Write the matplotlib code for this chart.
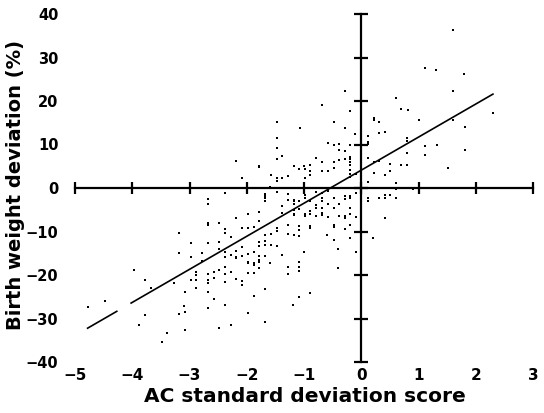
import matplotlib
matplotlib.use("Agg")
import matplotlib.pyplot as plt
import numpy as np

# ---- data ----
pts = [
    (-1.47,15.25),(-1.07,13.9),(-0.29,22.4),(0.61,20.8),(-0.69,19.0),(0.70,18.2),(0.81,17.9),
    (-0.19,17.7),(0.22,16.2),(0.22,15.6),(0.31,15.25),(-0.48,15.2),(1.01,15.7),(-0.29,13.9),
    (1.61,36.4),(1.11,27.7),(1.31,27.1),(1.80,26.3),(1.61,22.4),(1.61,15.55),(2.30,17.2),(1.81,14.1),
    (1.12,9.56),(1.32,9.8),(1.11,7.7),(1.81,8.7),(1.51,4.6),
    (-3.19,-14.9),(-2.98,-15.8),(-3.97,-18.9),(-3.77,-21.1),(-2.98,-21.1),(-3.67,-23.0),(-3.27,-21.8),
    (-4.47,-25.9),(-4.77,-27.4),(-3.08,-24.0),(-3.09,-27.1),(-3.78,-29.1),(-3.19,-29.0),(-3.08,-28.6),
    (-3.88,-31.5),(-3.08,-32.7),(-3.39,-33.4),(-3.48,-35.4),
    (-3.19,-10.25),(-2.98,-12.6),
    (-1.47,11.4),(-1.48,9.3),(-2.18,6.3),(-1.38,7.4),(-1.48,6.7),(-1.78,5.1),(-1.78,4.8),(-1.18,5.1),
    (-1.08,4.4),(-1.0,5.1),(-1.58,3.1),(-2.08,2.4),(-1.48,2.4),(-1.48,1.65),(-1.38,2.2),(-1.28,2.65),
    (-0.99,2.4),(-1.80,0.0),(-1.59,0.2),(-1.28,0.1),
    (-2.38,-1.2),(-1.48,-0.9),(-1.68,-1.3),(-1.68,-1.8),(-1.68,-2.4),(-1.68,-2.95),(-1.28,-1.4),
    (-1.28,-2.7),(-1.18,-2.65),(-1.18,-3.1),(-1.18,-3.6),(-1.08,-2.95),(-2.68,-2.5),(-2.68,-3.6),
    (-1.38,-4.1),(-1.18,-5.1),(-1.18,-5.9),(-1.18,-6.3),(-1.08,-4.9),(-1.78,-5.6),(-1.38,-5.7),
    (-2.18,-6.8),(-1.98,-6.0),(-1.78,-7.6),(-2.68,-8.1),(-2.68,-8.6),(-2.48,-7.95),(-1.28,-8.5),
    (-1.08,-8.7),(-1.08,-9.6),(-2.38,-9.4),(-2.38,-10.3),(-2.08,-9.3),(-1.98,-9.3),(-1.88,-8.9),
    (-1.48,-9.3),(-1.48,-9.8),(-2.28,-11.2),(-1.58,-10.6),(-1.68,-10.8),(-1.28,-10.5),(-1.18,-10.9),
    (-1.08,-11.0),(-2.68,-12.7),(-2.48,-12.3),(-1.78,-12.4),(-1.78,-13.3),(-1.68,-12.2),(-1.68,-13.1),
    (-1.58,-13.1),(-1.48,-13.3),(-2.08,-13.5),
    (-2.78,-14.9),(-2.78,-16.7),(-2.48,-14.0),(-2.38,-14.6),(-2.38,-15.8),(-2.28,-15.3),(-2.18,-14.4),
    (-2.18,-15.8),(-2.18,-16.1),(-2.08,-15.7),(-1.98,-15.2),(-1.88,-14.6),(-1.78,-15.6),(-1.68,-15.6),
    (-1.98,-16.9),(-1.98,-17.3),(-1.88,-17.2),(-1.88,-17.7),(-1.78,-16.6),(-1.78,-17.1),(-1.78,-18.5),
    (-1.59,-17.2),(-1.38,-15.3),(-1.08,-16.9),(-1.08,-18.2),(-1.08,-19.1),(-1.28,-18.2),(-1.28,-19.7),
    (-2.88,-19.2),(-2.88,-20.0),(-2.88,-21.2),(-2.68,-19.7),(-2.58,-19.2),(-2.58,-20.6),(-2.48,-18.9),
    (-2.38,-18.2),(-2.38,-19.7),(-2.28,-19.2),(-2.38,-21.6),(-2.68,-21.2),(-2.68,-21.9),(-2.18,-20.9),
    (-2.08,-21.3),(-2.08,-22.3),(-1.98,-19.5),(-1.88,-19.5),(-2.88,-23.1),(-2.68,-23.9),(-2.58,-25.5),
    (-1.68,-23.2),(-1.88,-24.8),(-2.38,-26.9),(-2.68,-27.7),(-1.98,-28.8),(-1.19,-26.8),(-1.08,-25.1),
    (-1.68,-30.8),(-2.28,-31.5),(-2.48,-32.1),(-1.0,-14.8),
    (-0.40,-14.0),(-0.10,-14.6),(-0.40,-18.5),(-0.89,-24.1),
    (-0.105,12.4),(0.12,12.0),(0.31,12.6),(0.41,12.8),(0.80,11.6),(0.80,10.9),(0.12,10.6),(0.12,10.1),
    (-0.58,10.4),(-0.48,9.95),(-0.38,10.1),(-0.19,9.95),(-0.38,8.7),(-0.29,8.6),(-0.19,7.2),(-0.19,6.6),
    (-0.19,5.9),(-0.19,5.3),(-0.29,6.6),(-0.38,6.4),(-0.79,6.9),(-0.68,5.95),(-0.48,5.95),(-0.99,4.3),
    (-0.89,5.2),(-0.89,3.8),(-0.89,3.0),(-0.68,3.8),(-0.58,3.95),(-0.48,4.6),(-0.19,4.1),(-0.19,3.3),
    (-0.19,2.6),(-0.10,3.2),(0.12,6.9),(0.22,5.95),(0.31,6.3),(0.51,5.5),(0.80,8.1),(0.70,5.2),
    (0.80,5.2),(0.22,3.5),(0.41,3.0),(0.51,3.8),(0.60,1.2),(0.12,1.3),
    (-0.79,0.1),(-0.68,0.0),(-0.48,0.1),(-0.98,0.0),(0.61,-0.3),(0.91,-0.3),
    (0.12,-2.2),(0.12,-3.1),(0.31,-2.2),(0.41,-1.7),(0.41,-2.2),(0.51,-1.7),(0.60,-2.3),(0.41,-6.8),
    (0.20,-11.4),
    (-0.99,-1.7),(-0.99,-2.4),(-0.89,-3.1),(-0.79,-1.0),(-0.68,-1.2),(-0.58,-0.7),(-0.48,-2.2),
    (-0.29,-1.8),(-0.29,-2.6),(-0.19,-1.8),(-0.19,-2.3),(-0.10,-1.1),(-0.79,-3.9),(-0.79,-4.7),
    (-0.68,-2.3),(-0.68,-3.1),(-0.68,-4.5),(-0.58,-3.6),(-0.48,-4.5),(-0.19,-4.5),(-0.38,-3.6),
    (-0.99,-5.9),(-0.99,-6.4),(-0.89,-5.25),(-0.89,-6.0),(-0.79,-6.5),(-0.68,-5.7),(-0.68,-6.3),
    (-0.58,-6.6),(-0.29,-6.4),(-0.29,-6.8),(-0.19,-5.9),(-0.38,-6.4),(-0.10,-6.6),(-0.89,-8.8),
    (-0.89,-9.3),(-0.48,-8.5),(-0.48,-8.9),(-0.29,-9.5),(-0.19,-8.5),(-0.60,-10.8),(-0.48,-12.0),
    (-0.19,-11.6),
]
ac_sds = [p[0] for p in pts]
bw_dev = [p[1] for p in pts]

fit_slope = 7.6
fit_intercept = 4.1
fit_segments = [(-4.78, -4.27), (-4.02, 2.30)]

x_ticks = [-5, -4, -3, -2, -1, 0, 1, 2, 3]
y_ticks = [-40, -30, -20, -10, 0, 10, 20, 30, 40]
x_tick_labels = ["\u22125", "\u22124", "\u22123", "\u22122", "\u22121", "0", "1", "2", "3"]
y_tick_labels = ["\u221240", "\u221230", "\u221220", "\u221210", "0", "10", "20", "30", "40"]
x_label = "AC standard deviation score"
y_label = "Birth weight deviation (%)"

# ---- figure ----
W, H = 544, 413
fig = plt.figure(figsize=(W / 100, H / 100), dpi=100)
ax = fig.add_axes([75 / W, 1 - 362 / H, (533 - 75) / W, (362 - 14) / H])
ax.set_xlim(x_ticks[0], x_ticks[-1])
ax.set_ylim(y_ticks[0], y_ticks[-1])
for s in ax.spines.values():
    s.set_visible(False)

font = dict(family="DejaVu Sans", weight="bold")

# crosshair axes through the origin
ax.plot([x_ticks[0], x_ticks[-1]], [0, 0], color="black", lw=1.6, clip_on=False, zorder=2)
ax.plot([0, 0], [y_ticks[0], y_ticks[-1]], color="black", lw=1.6, clip_on=False, zorder=2)
ax.plot(x_ticks, [0] * len(x_ticks), ls="none", marker="|", ms=9, mew=1.6,
        color="black", clip_on=False, zorder=2)
ax.plot([0] * len(y_ticks), y_ticks, ls="none", marker="_", ms=10, mew=1.6,
        color="black", clip_on=False, zorder=2)

# regression line
for x0, x1 in fit_segments:
    xs = np.array([x0, x1])
    ax.plot(xs, fit_intercept + fit_slope * xs, color="black", lw=1.2, zorder=3)

# points
ax.scatter(ac_sds, bw_dev, s=3.5, color="black", marker="s", linewidths=0, zorder=4)

ax.set_xticks(x_ticks)
ax.set_xticklabels(x_tick_labels, fontsize=11, **font)
ax.set_yticks(y_ticks)
ax.set_yticklabels(y_tick_labels, fontsize=10.5, **font)
ax.tick_params(axis="x", length=0, pad=4)
ax.tick_params(axis="y", length=0, pad=12)

ax.set_xlabel(x_label, fontsize=14.5, **font)
ax.xaxis.set_label_coords((305 - 75) / 458, (362 - 387) / 348)
ax.set_ylabel(y_label, fontsize=14, **font)
ax.yaxis.set_label_coords((25 - 75) / 458, (362 - 185) / 348)

fig.savefig("out.png", dpi=100)
